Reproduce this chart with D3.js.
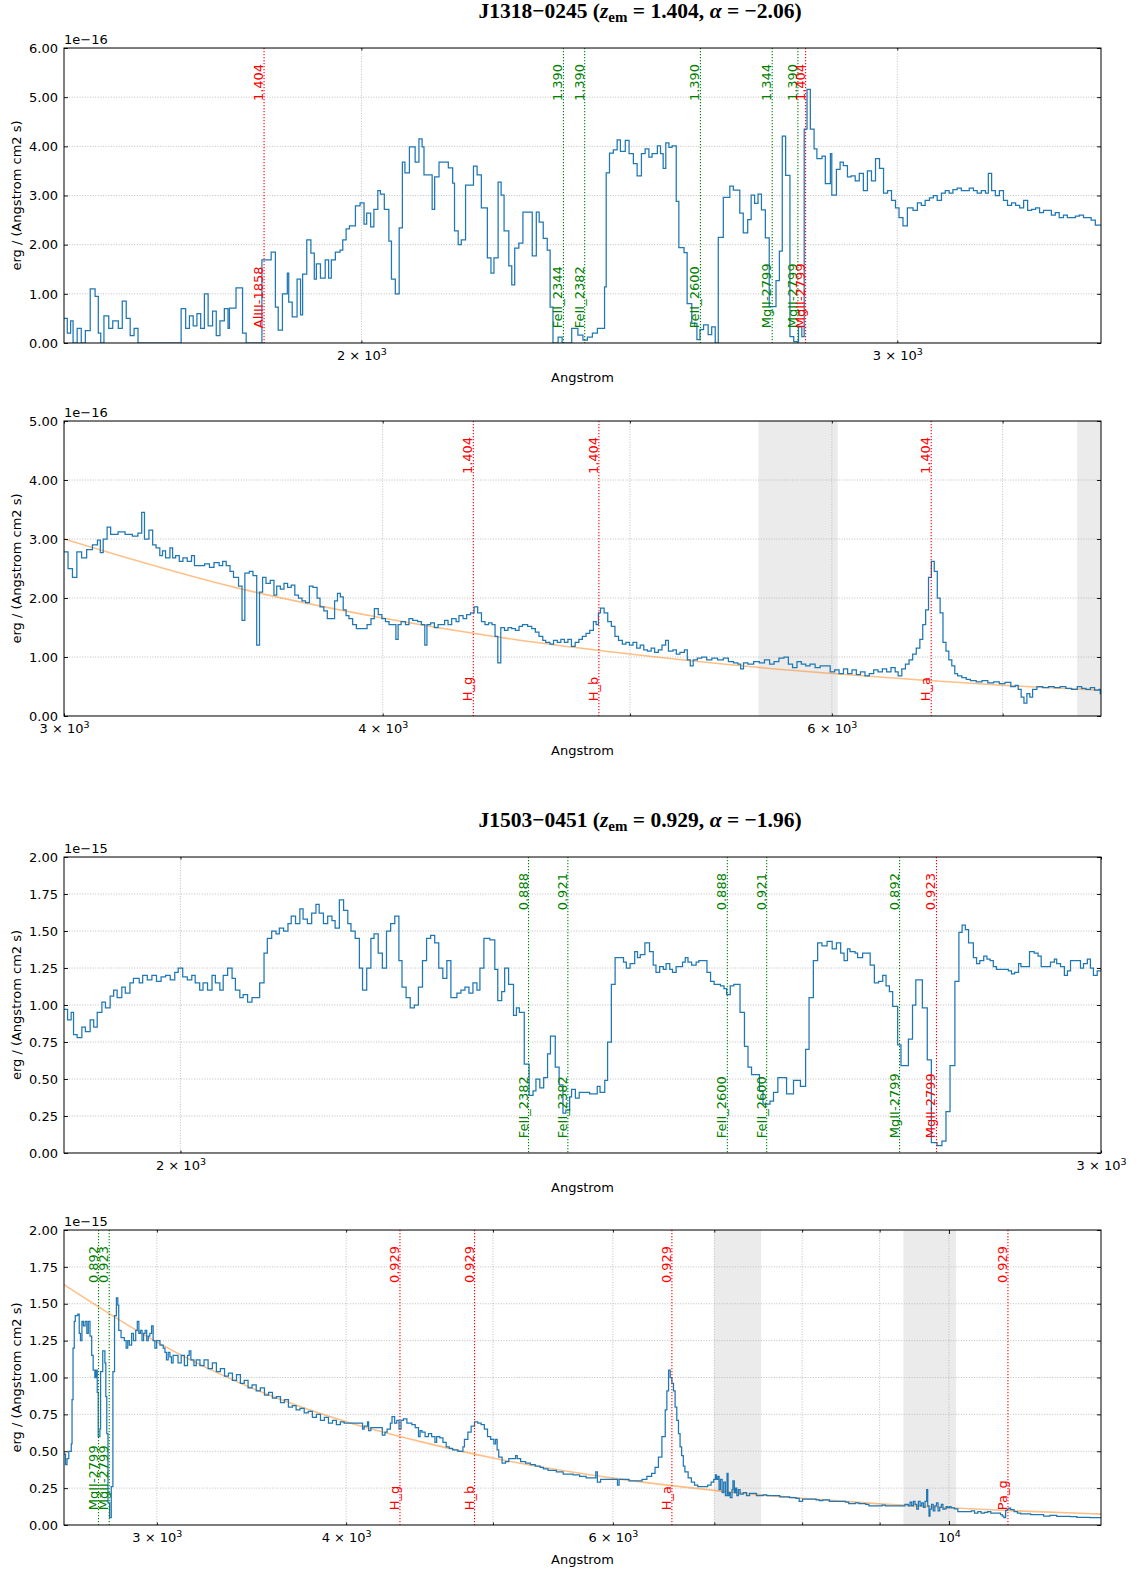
<!DOCTYPE html>
<html>
<head>
<meta charset="utf-8">
<script src="https://cdn.jsdelivr.net/npm/d3@7"></script>
<style>
body { margin: 0; background: #fff; }
text { font-family: "DejaVu Sans", sans-serif; }
text.title { font-family: "Liberation Serif", "Times New Roman", serif; font-weight: bold; }
</style>
</head>
<body>
<div id="chart"></div>
<script>
const figW = 1147, figH = 1587;
const plotX0 = 64, plotX1 = 1101;

// quasars
const qsoNames = ["J1318\u22120245", "J1503\u22120451"];
const qsoZem = [1.404, 0.929];
const qsoAlpha = [-2.06, -1.96];

// telluric bands, observed frame (Angstrom)
const telluricObs = [[13500, 14500], [18000, 19500]];

// x tick labels per panel
const xLabels1 = [2000, 3000];
const xLabels2 = [3000, 4000, 6000];
const xLabels3 = [2000, 3000];
const xLabels4 = [3000, 4000, 6000, 10000];

// marked lines: rest wavelength, redshift, kind
const lines1318Uv = [
  {name: "AlIII-1858", rest: 1858, z: 1.404, kind: "qso"},
  {name: "FeII_2344", rest: 2344, z: 1.390, kind: "abs"},
  {name: "FeII_2382", rest: 2382, z: 1.390, kind: "abs"},
  {name: "FeII_2600", rest: 2600, z: 1.390, kind: "abs"},
  {name: "MgII-2799", rest: 2799, z: 1.344, kind: "abs"},
  {name: "MgII-2799", rest: 2799, z: 1.390, kind: "abs"},
  {name: "MgII-2799", rest: 2799, z: 1.404, kind: "qso"}
];
const lines1318Ir = [
  {name: "H_g", rest: 4341, z: 1.404, kind: "qso"},
  {name: "H_b", rest: 4862, z: 1.404, kind: "qso"},
  {name: "H_a", rest: 6563, z: 1.404, kind: "qso"}
];
const lines1503Uv = [
  {name: "FeII_2382", rest: 2382, z: 0.888, kind: "abs"},
  {name: "FeII_2382", rest: 2382, z: 0.921, kind: "abs"},
  {name: "FeII_2600", rest: 2600, z: 0.888, kind: "abs"},
  {name: "FeII_2600", rest: 2600, z: 0.921, kind: "abs"},
  {name: "MgII-2799", rest: 2799, z: 0.892, kind: "abs"},
  {name: "MgII-2799", rest: 2799, z: 0.923, kind: "qso"}
];
const lines1503Ir = [
  {name: "MgII-2799", rest: 2799, z: 0.892, kind: "abs"},
  {name: "MgII-2799", rest: 2799, z: 0.923, kind: "abs"},
  {name: "H_g", rest: 4341, z: 0.929, kind: "qso"},
  {name: "H_b", rest: 4862, z: 0.929, kind: "qso"},
  {name: "H_a", rest: 6563, z: 0.929, kind: "qso"},
  {name: "Pa_g", rest: 10938, z: 0.929, kind: "qso"}
];

// power-law continuum (flux units as the spectra)
const fit1318 = [[3000,3.00],[3500,2.18],[4000,1.66],[4500,1.30],[5000,1.05],[5500,0.86],[6000,0.72],[6500,0.61],[7000,0.52],[7650,0.436]];
const fit1503 = [[2605,1.63],[3000,1.24],[3500,0.91],[4000,0.70],[4500,0.56],[5000,0.454],[6000,0.318],[7000,0.235],[8000,0.181],[9000,0.143],[10000,0.117],[11000,0.097],[12600,0.074]];

// spectra: [rest wavelength (A), flux] ; J1318 in 1e-16, J1503 in 1e-15
const spec1318Uv = [[1597,0.50],[1601,0.20],[1605,0.45],[1608,0.00],[1613,0.30],[1618,0.00],[1623,0.25],[1629,1.10],[1635,0.95],[1639,0.20],[1642,0.00],[1646,0.55],[1652,0.30],[1657,0.45],[1664,0.30],[1669,0.85],[1674,0.50],[1679,0.15],[1684,0.30],[1689,0.00],[1745,0.70],[1751,0.30],[1756,0.55],[1761,0.35],[1766,0.60],[1771,0.30],[1776,1.00],[1781,0.35],[1787,0.65],[1792,0.15],[1797,0.45],[1803,0.70],[1808,0.30],
[1810,0.71],[1819,1.12],[1828,0.20],[1833,0.00],[1855,1.69],[1868,1.85],[1874,0.73],[1878,0.26],[1884,1.00],[1891,1.42],[1893,0.83],[1898,0.53],[1905,1.30],[1910,0.57],[1913,1.40],[1919,2.10],[1925,1.83],[1930,1.30],[1933,1.61],[1939,1.32],[1946,1.69],[1951,1.32],[1955,1.69],[1961,1.85],[1968,1.89],[1972,2.10],[1977,2.32],[1982,2.38],[1991,2.79],[1998,2.85],[2004,2.42],[2008,2.64],[2014,2.36],[2019,2.72],[2025,3.10],[2029,3.03],[2035,2.72],[2042,2.07],[2046,1.30],[2052,1.00],[2058,2.34],[2063,3.68],[2067,3.46],[2074,3.99],[2083,3.68],[2089,4.15],[2094,3.99],[2097,3.42],[2110,2.72],[2114,3.38],[2121,3.68],[2136,3.56],[2143,3.25],[2146,2.28],[2152,2.00],[2157,2.10],[2164,3.21],[2177,3.60],[2183,3.42],[2190,2.75],[2200,1.73],[2206,1.42],[2211,1.73],[2218,3.27],[2223,3.01],[2228,2.28],[2236,1.57],[2241,1.18],[2246,1.93],[2253,2.03],[2260,2.66],[2276,1.77],[2283,2.66],[2288,2.46],[2295,2.13],[2302,1.89],[2307,0.73],[2312,0.00],[2321,0.12],[2328,0.00],[2345,0.30],[2356,0.16],[2365,0.06],[2373,0.12],[2382,0.20],[2391,0.30],[2404,1.14],[2407,3.46],[2413,3.86],[2420,3.93],[2427,4.13],[2433,3.90],[2442,4.12],[2449,3.85],[2457,3.65],[2464,3.40],[2472,3.85],[2479,3.95],[2486,3.78],[2492,3.85],[2502,4.01],[2508,3.85],[2513,3.55],[2518,4.07],[2524,3.98],[2530,4.01],[2538,2.88],[2543,1.94],[2553,1.84],[2559,0.80],[2568,0.40],[2578,0.07],[2584,0.27],[2591,0.37],[2600,0.17],[2607,0.33],[2614,0.00],[2620,2.15],[2630,2.96],[2643,3.19],[2650,3.11],[2663,2.64],[2670,2.24],[2679,2.51],[2686,3.01],[2693,2.84],[2700,3.03],[2707,2.71],[2715,2.14],[2723,0.74],[2737,1.27],[2744,1.87],[2750,4.21],[2757,3.41],[2766,0.13],[2774,0.03],[2784,0.33],[2791,0.13],[2796,4.35],[2802,5.16],[2809,4.35],[2817,3.95],[2823,3.75],[2834,3.80],[2841,3.24],[2852,3.85],[2855,3.01],[2865,3.53],[2873,3.68],[2880,3.61],[2889,3.38],[2897,3.40],[2906,3.30],[2915,3.45],[2924,3.10],[2933,3.50],[2942,3.30],[2951,3.75],[2960,3.55],[2969,3.05],[2978,3.10],[2987,2.90],[2996,2.75],[3004,2.55],[3013,2.38],[3023,2.75],[3036,2.70],[3046,2.85],[3055,2.80],[3064,2.90],[3074,2.95],[3083,3.00],[3092,2.90],[3102,3.05],[3111,3.10],[3120,3.05],[3129,3.12],[3139,3.15],[3149,3.10],[3158,3.10],[3168,3.15],[3178,3.10],[3187,3.05],[3197,3.10],[3207,3.05],[3214,3.45],[3222,3.10],[3231,3.00],[3241,3.10],[3251,2.90],[3261,2.80],[3271,2.85],[3281,2.80],[3291,2.75],[3301,2.90],[3311,2.70],[3321,2.72],[3331,2.75],[3341,2.65],[3351,2.70],[3361,2.70],[3371,2.60],[3381,2.65],[3391,2.55],[3402,2.60],[3412,2.55],[3423,2.55],[3433,2.58],[3443,2.60],[3454,2.55],[3464,2.55],[3474,2.50],[3485,2.40],[3495,2.40]];

const spec1318Ir = [[3000,2.78],[3011,2.50],[3023,2.35],[3035,2.78],[3048,2.68],[3062,2.82],[3078,2.90],[3092,2.98],[3100,2.77],[3108,3.00],[3119,3.20],[3129,3.08],[3150,3.12],[3170,3.08],[3191,3.05],[3207,3.10],[3218,3.45],[3226,3.00],[3239,3.15],[3250,2.90],[3260,2.85],[3271,2.72],[3279,2.80],[3288,2.68],[3301,2.85],[3309,2.68],[3318,2.72],[3329,2.62],[3340,2.68],[3353,2.62],[3366,2.72],[3375,2.55],[3388,2.55],[3406,2.58],[3421,2.52],[3435,2.60],[3451,2.55],[3462,2.62],[3473,2.55],[3485,2.45],[3496,2.35],[3512,2.20],[3523,1.62],[3532,2.42],[3546,2.45],[3558,2.38],[3570,1.20],[3579,2.10],[3589,2.35],[3600,2.25],[3614,2.30],[3626,2.05],[3635,2.20],[3647,2.15],[3659,2.25],[3671,2.18],[3683,2.22],[3695,2.05],[3707,2.00],[3719,1.95],[3731,1.92],[3744,2.20],[3756,2.18],[3770,2.00],[3780,1.85],[3793,1.78],[3805,1.65],[3818,1.65],[3830,1.95],[3840,2.08],[3850,2.02],[3860,1.80],[3870,1.70],[3880,1.65],[3893,1.55],[3906,1.48],[3931,1.48],[3944,1.55],[3958,1.65],[3970,1.82],[3984,1.72],[3997,1.65],[4010,1.60],[4023,1.55],[4048,1.30],[4056,1.55],[4067,1.60],[4083,1.55],[4096,1.65],[4110,1.62],[4128,1.60],[4142,1.55],[4155,1.20],[4163,1.55],[4177,1.58],[4191,1.50],[4205,1.55],[4230,1.62],[4243,1.55],[4257,1.65],[4274,1.60],[4285,1.70],[4301,1.65],[4315,1.72],[4330,1.75],[4344,1.85],[4358,1.75],[4373,1.60],[4387,1.55],[4401,1.58],[4415,1.55],[4427,1.35],[4438,0.90],[4450,1.50],[4465,1.45],[4479,1.50],[4494,1.48],[4509,1.45],[4524,1.52],[4538,1.55],[4559,1.52],[4576,1.48],[4591,1.42],[4606,1.35],[4622,1.28],[4634,1.25],[4652,1.22],[4667,1.28],[4683,1.25],[4698,1.30],[4713,1.25],[4728,1.30],[4743,1.18],[4759,1.25],[4775,1.30],[4790,1.35],[4806,1.40],[4822,1.45],[4838,1.60],[4850,1.55],[4860,1.75],[4869,1.83],[4885,1.75],[4901,1.60],[4917,1.52],[4933,1.35],[4949,1.28],[4966,1.22],[4982,1.25],[4998,1.20],[5014,1.25],[5031,1.15],[5047,1.20],[5063,1.12],[5080,1.10],[5097,1.15],[5113,1.08],[5130,1.12],[5147,1.20],[5164,1.28],[5177,1.10],[5198,1.12],[5214,1.05],[5231,1.08],[5252,1.12],[5266,0.95],[5280,0.85],[5294,0.95],[5314,0.98],[5335,1.00],[5359,0.95],[5384,0.98],[5412,0.95],[5440,0.98],[5465,0.92],[5490,0.90],[5512,0.88],[5526,0.80],[5540,0.90],[5562,0.88],[5591,0.92],[5620,0.90],[5646,0.95],[5672,0.88],[5695,0.92],[5720,0.98],[5746,1.00],[5769,0.88],[5791,0.82],[5814,0.92],[5837,0.88],[5860,0.85],[5883,0.88],[5910,0.82],[5937,0.85],[5968,0.85],[5991,0.75],[6015,0.78],[6039,0.72],[6063,0.80],[6086,0.72],[6110,0.78],[6134,0.70],[6157,0.75],[6182,0.68],[6206,0.72],[6231,0.78],[6255,0.75],[6280,0.80],[6304,0.75],[6329,0.82],[6353,0.75],[6370,0.68],[6391,0.80],[6412,0.88],[6433,0.95],[6454,1.05],[6475,1.15],[6496,1.30],[6513,1.55],[6530,1.80],[6547,2.35],[6564,2.62],[6581,2.45],[6599,2.00],[6616,1.75],[6633,1.25],[6651,1.10],[6668,0.95],[6686,0.85],[6704,0.72],[6721,0.68],[6747,0.65],[6774,0.62],[6799,0.60],[6835,0.58],[6871,0.60],[6907,0.56],[6943,0.58],[6979,0.55],[7015,0.57],[7052,0.50],[7080,0.52],[7099,0.45],[7118,0.32],[7136,0.22],[7155,0.38],[7174,0.32],[7192,0.45],[7220,0.50],[7258,0.48],[7296,0.50],[7334,0.48],[7373,0.50],[7411,0.47],[7450,0.45],[7488,0.50],[7518,0.47],[7547,0.45],[7577,0.48],[7606,0.44],[7636,0.45],[7645,0.38]];

const spec1503Uv = [[1900,0.97],[1903,0.90],[1906,0.95],[1908,0.80],[1911,0.78],[1915,0.85],[1918,0.82],[1922,0.90],[1925,0.85],[1928,0.95],[1932,1.02],[1935,0.98],[1939,1.06],[1942,1.10],[1945,1.05],[1949,1.12],[1952,1.08],[1956,1.15],[1959,1.18],[1964,1.15],[1967,1.20],[1971,1.17],[1975,1.20],[1979,1.16],[1983,1.19],[1987,1.20],[1991,1.17],[1995,1.22],[1998,1.25],[2002,1.19],[2006,1.17],[2010,1.20],[2013,1.15],[2017,1.10],[2020,1.15],[2024,1.10],[2028,1.20],[2031,1.15],[2035,1.10],[2038,1.20],[2042,1.25],[2046,1.18],[2049,1.10],[2053,1.05],[2056,1.07],[2060,1.02],[2064,1.05],[2067,1.05],[2071,1.15],[2075,1.35],[2078,1.45],[2082,1.50],[2086,1.48],[2089,1.52],[2093,1.50],[2097,1.55],[2100,1.60],[2104,1.55],[2108,1.65],[2111,1.58],[2115,1.55],[2119,1.62],[2123,1.68],[2126,1.62],[2130,1.55],[2134,1.60],[2138,1.57],[2141,1.52],[2145,1.71],[2149,1.64],[2153,1.55],[2156,1.50],[2160,1.45],[2164,1.25],[2167,1.10],[2171,1.25],[2175,1.45],[2178,1.48],[2182,1.35],[2186,1.25],[2190,1.50],[2194,1.55],[2198,1.60],[2202,1.30],[2205,1.12],[2209,1.05],[2213,0.98],[2217,1.00],[2221,1.12],[2225,1.30],[2229,1.45],[2233,1.47],[2237,1.42],[2241,1.25],[2245,1.18],[2249,1.30],[2253,1.05],[2259,1.08],[2263,1.10],[2267,1.12],[2271,1.08],[2275,1.15],[2279,1.10],[2282,1.25],[2286,1.45],[2292,1.44],[2297,1.24],[2300,1.03],[2304,1.09],[2307,1.25],[2311,1.14],[2316,0.93],[2319,0.98],[2322,0.95],[2327,0.60],[2332,0.39],[2336,0.42],[2339,0.50],[2343,0.44],[2347,0.51],[2351,0.67],[2354,0.79],[2359,0.58],[2363,0.46],[2367,0.27],[2370,0.29],[2374,0.38],[2376,0.43],[2380,0.37],[2384,0.41],[2395,0.40],[2403,0.45],[2406,0.41],[2411,0.49],[2414,0.75],[2418,1.14],[2422,1.32],[2431,1.29],[2434,1.25],[2438,1.28],[2443,1.36],[2446,1.32],[2449,1.34],[2454,1.42],[2459,1.36],[2463,1.27],[2466,1.22],[2470,1.26],[2474,1.24],[2477,1.28],[2481,1.24],[2484,1.22],[2488,1.26],[2495,1.29],[2498,1.32],[2501,1.29],[2505,1.27],[2510,1.29],[2513,1.30],[2522,1.22],[2526,1.16],[2530,1.14],[2537,1.13],[2541,1.11],[2544,1.07],[2548,1.13],[2552,1.14],[2559,0.95],[2564,0.72],[2568,0.58],[2572,0.53],[2581,0.42],[2585,0.33],[2593,0.35],[2597,0.41],[2602,0.51],[2612,0.40],[2620,0.49],[2628,0.45],[2634,0.70],[2638,1.05],[2643,1.30],[2648,1.42],[2653,1.40],[2659,1.43],[2665,1.38],[2670,1.42],[2675,1.35],[2679,1.30],[2683,1.38],[2686,1.36],[2692,1.35],[2695,1.32],[2701,1.35],[2710,1.27],[2715,1.15],[2720,1.16],[2725,1.20],[2729,1.13],[2733,1.09],[2737,0.99],[2743,0.73],[2747,0.59],[2756,0.77],[2761,1.00],[2765,1.17],[2773,0.98],[2779,0.63],[2784,0.07],[2791,0.05],[2797,0.08],[2802,0.28],[2807,0.59],[2813,1.16],[2818,1.49],[2822,1.54],[2826,1.51],[2830,1.42],[2836,1.32],[2840,1.28],[2844,1.30],[2849,1.33],[2853,1.31],[2857,1.30],[2861,1.26],[2865,1.24],[2876,1.24],[2880,1.23],[2884,1.21],[2888,1.22],[2893,1.28],[2896,1.26],[2907,1.36],[2913,1.35],[2918,1.33],[2922,1.26],[2934,1.29],[2939,1.31],[2942,1.28],[2947,1.26],[2952,1.20],[2956,1.23],[2960,1.30],[2969,1.30],[2973,1.25],[2977,1.28],[2982,1.31],[2986,1.25],[2990,1.20],[2995,1.23]];

const spec1503Ir = [[2605,0.48],[2611,0.41],[2617,0.45],[2624,0.50],[2634,0.55],[2637,0.85],[2641,1.20],[2646,1.38],[2650,1.42],[2660,1.43],[2666,1.30],[2671,1.25],[2677,1.38],[2683,1.35],[2690,1.38],[2697,1.30],[2703,1.38],[2710,1.28],[2717,1.15],[2723,1.05],[2730,1.00],[2735,1.05],[2740,0.90],[2744,0.60],[2751,0.65],[2754,1.04],[2763,1.18],[2772,1.10],[2776,0.87],[2780,0.62],[2785,0.15],[2792,0.05],[2799,0.26],[2806,1.04],[2813,1.42],[2821,1.54],[2827,1.49],[2831,1.32],[2841,1.27],[2855,1.25],[2863,1.20],[2870,1.25],[2877,1.22],[2887,1.30],[2895,1.25],[2905,1.32],[2912,1.38],[2919,1.30],[2926,1.32],[2933,1.25],[2940,1.30],[2947,1.32],[2954,1.25],[2961,1.28],[2968,1.30],[2976,1.35],[2983,1.25],[2991,1.20],[2999,1.25],[3014,1.22],[3029,1.20],[3037,1.17],[3044,1.12],[3052,1.17],[3060,1.14],[3067,1.10],[3075,1.15],[3090,1.15],[3098,1.10],[3113,1.15],[3128,1.08],[3143,1.15],[3151,1.18],[3159,1.12],[3174,1.08],
[3185,1.12],[3203,1.08],[3223,1.12],[3243,1.06],[3264,1.10],[3284,1.04],[3304,1.06],[3325,1.01],[3345,1.03],[3365,0.98],[3386,1.02],[3406,0.96],[3426,0.98],[3446,0.93],[3467,0.95],[3489,0.91],[3511,0.93],[3533,0.88],[3555,0.90],[3576,0.86],[3598,0.87],[3620,0.83],[3642,0.85],[3664,0.80],[3686,0.81],[3707,0.78],[3729,0.79],[3753,0.76],[3776,0.77],[3800,0.73],[3823,0.75],[3847,0.71],[3870,0.73],[3894,0.69],[3918,0.71],[3941,0.68],[3965,0.70],[3988,0.69],
[3998,0.69],[4101,0.65],[4111,0.67],[4132,0.70],[4139,0.64],[4153,0.66],[4226,0.61],[4243,0.63],[4257,0.65],[4278,0.69],[4289,0.735],[4306,0.69],[4320,0.71],[4335,0.65],[4348,0.71],[4364,0.72],[4387,0.69],[4420,0.68],[4443,0.66],[4465,0.60],[4476,0.64],[4488,0.63],[4510,0.60],[4533,0.62],[4555,0.60],[4578,0.56],[4590,0.60],[4612,0.59],[4634,0.56],[4657,0.53],[4679,0.52],[4703,0.51],[4740,0.50],[4777,0.53],[4788,0.58],[4813,0.63],[4837,0.67],[4862,0.70],[4886,0.69],[4911,0.68],[4935,0.65],[4959,0.60],[4983,0.58],[5007,0.55],[5020,0.58],[5032,0.51],[5044,0.46],[5070,0.42],[5096,0.43],[5122,0.45],[5175,0.47],[5188,0.45],[5215,0.43],[5254,0.42],[5293,0.41],[5332,0.40],[5372,0.39],[5398,0.38],[5437,0.37],[5506,0.36],[5563,0.345],[5648,0.34],[5704,0.33],[5761,0.32],[5846,0.36],[5860,0.29],[5889,0.31],[5996,0.31],[6042,0.27],[6057,0.31],[6149,0.30],[6272,0.31],[6318,0.33],[6364,0.35],[6397,0.39],[6430,0.46],[6464,0.60],[6497,0.78],[6513,0.91],[6530,1.05],[6546,1.00],[6563,0.96],[6579,0.91],[6595,0.80],[6612,0.71],[6629,0.62],[6645,0.53],[6661,0.47],[6678,0.40],[6694,0.36],[6727,0.32],[6760,0.29],[6793,0.27],[6826,0.26],[6896,0.26],[6930,0.27],[6966,0.29],
[6994,0.31],[7012,0.34],[7022,0.31],[7037,0.33],[7051,0.24],[7066,0.31],[7084,0.22],[7101,0.29],[7119,0.20],[7137,0.35],[7148,0.20],[7162,0.22],[7172,0.185],[7191,0.24],[7201,0.30],[7216,0.22],[7230,0.25],[7244,0.20],[7262,0.24],[7280,0.21],[7315,0.22],[7351,0.20],[7386,0.215],[7425,0.215],[7463,0.20],[7540,0.205],[7579,0.20],[7617,0.20],[7694,0.20],[7733,0.19],[7810,0.19],[7848,0.185],[7925,0.18],[7964,0.16],[8005,0.175],[8088,0.175],[8171,0.17],[8212,0.165],[8254,0.17],[8337,0.16],[8420,0.16],[8545,0.155],[8587,0.145],[8675,0.15],[8720,0.145],[8810,0.14],[8854,0.13],[9033,0.135],[9078,0.13],[9304,0.13],[9352,0.14],[9401,0.13],[9426,0.155],[9449,0.13],[9474,0.16],[9498,0.14],[9522,0.107],[9546,0.16],[9571,0.13],[9594,0.15],[9619,0.12],[9643,0.16],[9667,0.24],[9682,0.13],[9701,0.06],[9716,0.107],[9739,0.14],[9764,0.095],[9788,0.13],[9812,0.15],[9836,0.095],[9861,0.12],[9884,0.14],[9909,0.107],[9933,0.11],[9958,0.125],[9981,0.117],[10006,0.125],[10032,0.116],[10084,0.11],[10136,0.09],[10240,0.09],[10345,0.095],[10397,0.08],[10449,0.09],[10501,0.08],[10553,0.085],[10605,0.09],[10657,0.08],[10762,0.08],[10815,0.07],[10844,0.06],[10871,0.05],[10900,0.10],[10928,0.11],[10957,0.115],[10984,0.105],[11040,0.09],[11097,0.08],[11153,0.075],[11322,0.07],[11547,0.06],[11659,0.065],[11781,0.058],[12024,0.056],[12145,0.052],[12388,0.05]];

const panels = [
  {id: 1, q: 0, spec: spec1318Uv, fit: null, lines: lines1318Uv, top: 48, bottom: 343, xDom: [1597, 3500], yMax: 6, yStep: 1, exp: -16, labels: xLabels1, title: true},
  {id: 2, q: 0, spec: spec1318Ir, fit: fit1318, lines: lines1318Ir, top: 421, bottom: 716, xDom: [3000, 7650], yMax: 5, yStep: 1, exp: -16, labels: xLabels2, title: false},
  {id: 3, q: 1, spec: spec1503Uv, fit: null, lines: lines1503Uv, top: 857, bottom: 1153, xDom: [1900, 3000], yMax: 2, yStep: 0.25, exp: -15, labels: xLabels3, title: true},
  {id: 4, q: 1, spec: spec1503Ir, fit: fit1503, lines: lines1503Ir, top: 1230, bottom: 1525, xDom: [2605, 12600], yMax: 2, yStep: 0.25, exp: -15, labels: xLabels4, title: false}
];

const kindColor = {qso: "#ff0000", abs: "#008000"};

const svg = d3.select("#chart").append("svg")
  .attr("width", figW).attr("height", figH)
  .style("background-color", "white");

// minor log ticks (k * 10^n) inside a domain
function logTicks(dom) {
  const out = [];
  for (let e = Math.floor(Math.log10(dom[0])); e <= Math.ceil(Math.log10(dom[1])); e++) {
    for (let k = 1; k < 10; k++) {
      const v = k * Math.pow(10, e);
      if (v >= dom[0] - 1e-6 && v <= dom[1] + 1e-6) out.push(v);
    }
  }
  return out;
}

function sciLabel(sel, v) {
  const e = Math.floor(Math.log10(v) + 1e-9);
  const m = Math.round(v / Math.pow(10, e));
  sel.text(null);
  sel.append("tspan").text(m === 1 ? "10" : m + " \u00d7 10");
  sel.append("tspan").attr("dy", "-0.5em").attr("font-size", "9.5px").text(e);
}

function drawPanel(p) {
  const x = d3.scaleLog().domain(p.xDom).range([plotX0, plotX1]);
  const y = d3.scaleLinear().domain([0, p.yMax]).range([p.bottom, p.top]);
  const zem = qsoZem[p.q];
  const g = svg.append("g");
  const clipId = "clip" + p.id;

  svg.append("clipPath").attr("id", clipId)
    .append("rect")
    .attr("x", plotX0).attr("y", p.top)
    .attr("width", plotX1 - plotX0).attr("height", p.bottom - p.top);

  const inner = g.append("g").attr("clip-path", "url(#" + clipId + ")");
  const xTicks = logTicks(p.xDom);
  const yTicks = d3.range(0, p.yMax + 1e-9, p.yStep);

  // telluric bands
  inner.selectAll("rect.band")
    .data(telluricObs)
    .join("rect")
      .attr("class", "band")
      .attr("x", d => x(d[0] / (1 + zem)))
      .attr("y", p.top)
      .attr("width", d => x(d[1] / (1 + zem)) - x(d[0] / (1 + zem)))
      .attr("height", p.bottom - p.top)
      .attr("fill", "#ebebeb");

  // grid
  inner.selectAll("line.gx")
    .data(xTicks)
    .join("line")
      .attr("x1", d => x(d)).attr("x2", d => x(d))
      .attr("y1", p.top).attr("y2", p.bottom)
      .attr("stroke", "#b0b0b0").attr("stroke-width", 0.8)
      .attr("stroke-dasharray", "1,1.6");
  inner.selectAll("line.gy")
    .data(yTicks)
    .join("line")
      .attr("x1", plotX0).attr("x2", plotX1)
      .attr("y1", d => y(d)).attr("y2", d => y(d))
      .attr("stroke", "#b0b0b0").attr("stroke-width", 0.8)
      .attr("stroke-dasharray", "1,1.6");

  // continuum fit
  if (p.fit) {
    inner.append("path")
      .datum(p.fit)
      .attr("d", d3.line().x(d => x(d[0])).y(d => y(d[1])).curve(d3.curveMonotoneX))
      .attr("fill", "none")
      .attr("stroke", "#ff7f0e").attr("stroke-opacity", 0.5)
      .attr("stroke-width", 1.6);
  }

  // spectrum (steps)
  const last = p.spec[p.spec.length - 1];
  const stepData = p.spec.concat([[p.xDom[1], last[1]]]);
  inner.append("path")
    .datum(stepData)
    .attr("d", d3.line().x(d => x(d[0])).y(d => y(d[1])).curve(d3.curveStepAfter))
    .attr("fill", "none")
    .attr("stroke", "#1f77b4")
    .attr("stroke-width", 1.25);

  // marked lines
  const obs = d => d.rest * (1 + d.z) / (1 + zem);
  inner.selectAll("line.mk")
    .data(p.lines)
    .join("line")
      .attr("x1", d => x(obs(d))).attr("x2", d => x(obs(d)))
      .attr("y1", p.top).attr("y2", p.bottom)
      .attr("stroke", d => kindColor[d.kind])
      .attr("stroke-width", 1.1)
      .attr("stroke-dasharray", "1.2,1.8");

  g.selectAll("text.zl")
    .data(p.lines)
    .join("text")
      .attr("transform", d => "translate(" + (x(obs(d)) - 1) + "," + y(0.82 * p.yMax) + ") rotate(-90)")
      .attr("font-size", 13)
      .attr("fill", d => kindColor[d.kind])
      .text(d => d.z.toFixed(3));

  g.selectAll("text.nl")
    .data(p.lines)
    .join("text")
      .attr("transform", d => "translate(" + (x(obs(d)) - 1) + "," + y(0.05 * p.yMax) + ") rotate(-90)")
      .attr("font-size", 13)
      .attr("fill", d => kindColor[d.kind])
      .text(d => d.name);

  // axes
  const fmt = d3.format(".2f");
  const styleAxis = a => {
    a.select(".domain").remove();
    a.attr("font-size", 13);
    a.selectAll(".tick line").attr("stroke", "#000").attr("stroke-width", 0.9);
    a.selectAll(".tick text").attr("fill", "#000");
  };

  g.append("g")
    .attr("transform", "translate(" + plotX0 + ",0)")
    .call(d3.axisLeft(y).tickValues(yTicks).tickSizeInner(-4).tickSizeOuter(0).tickPadding(6).tickFormat(fmt))
    .call(styleAxis);
  g.append("g")
    .attr("transform", "translate(" + plotX1 + ",0)")
    .call(d3.axisRight(y).tickValues(yTicks).tickSizeInner(-4).tickSizeOuter(0).tickFormat(""))
    .call(styleAxis);

  const bx = g.append("g")
    .attr("transform", "translate(0," + p.bottom + ")")
    .call(d3.axisBottom(x).tickValues(xTicks).tickSizeInner(-2.5).tickSizeOuter(0).tickPadding(8)
      .tickFormat(d => p.labels.includes(d) ? "L" : ""))
    .call(styleAxis);
  bx.selectAll(".tick text").each(function(d) {
    if (p.labels.includes(d)) sciLabel(d3.select(this), d);
  });
  bx.selectAll(".tick line").filter(d => Math.abs(Math.log10(d) % 1) < 1e-9).attr("y2", -4);

  const tx = g.append("g")
    .attr("transform", "translate(0," + p.top + ")")
    .call(d3.axisTop(x).tickValues(xTicks).tickSizeInner(-2.5).tickSizeOuter(0).tickFormat(""))
    .call(styleAxis);
  tx.selectAll(".tick line").filter(d => Math.abs(Math.log10(d) % 1) < 1e-9).attr("y2", 4);

  // frame
  g.append("rect")
    .attr("x", plotX0).attr("y", p.top)
    .attr("width", plotX1 - plotX0).attr("height", p.bottom - p.top)
    .attr("fill", "none").attr("stroke", "#000").attr("stroke-width", 1);

  // labels
  g.append("text")
    .attr("x", (plotX0 + plotX1) / 2).attr("y", p.bottom + 39)
    .attr("text-anchor", "middle").attr("font-size", 13)
    .text("Angstrom");
  g.append("text")
    .attr("transform", "translate(21," + (p.top + p.bottom) / 2 + ") rotate(-90)")
    .attr("text-anchor", "middle").attr("font-size", 13)
    .text("erg / (Angstrom cm2 s)");
  g.append("text")
    .attr("x", plotX0).attr("y", p.top - 4)
    .attr("font-size", 13)
    .text("1e\u2212" + Math.abs(p.exp));

  if (p.title) {
    const t = g.append("text")
      .attr("class", "title")
      .attr("x", 640).attr("y", p.top - 30)
      .attr("text-anchor", "middle")
      .attr("font-size", 21.5);
    const a = qsoAlpha[p.q];
    t.append("tspan").text(qsoNames[p.q] + " (");
    t.append("tspan").attr("font-style", "italic").text("z");
    t.append("tspan").attr("font-size", 15).attr("dy", 4).text("em");
    t.append("tspan").attr("dy", -4).text(" = " + qsoZem[p.q].toFixed(3) + ", ");
    t.append("tspan").attr("font-style", "italic").text("\u03b1");
    t.append("tspan").text(" = " + (a < 0 ? "\u2212" : "") + Math.abs(a).toFixed(2) + ")");
  }
}

panels.forEach(drawPanel);
</script>
</body>
</html>
